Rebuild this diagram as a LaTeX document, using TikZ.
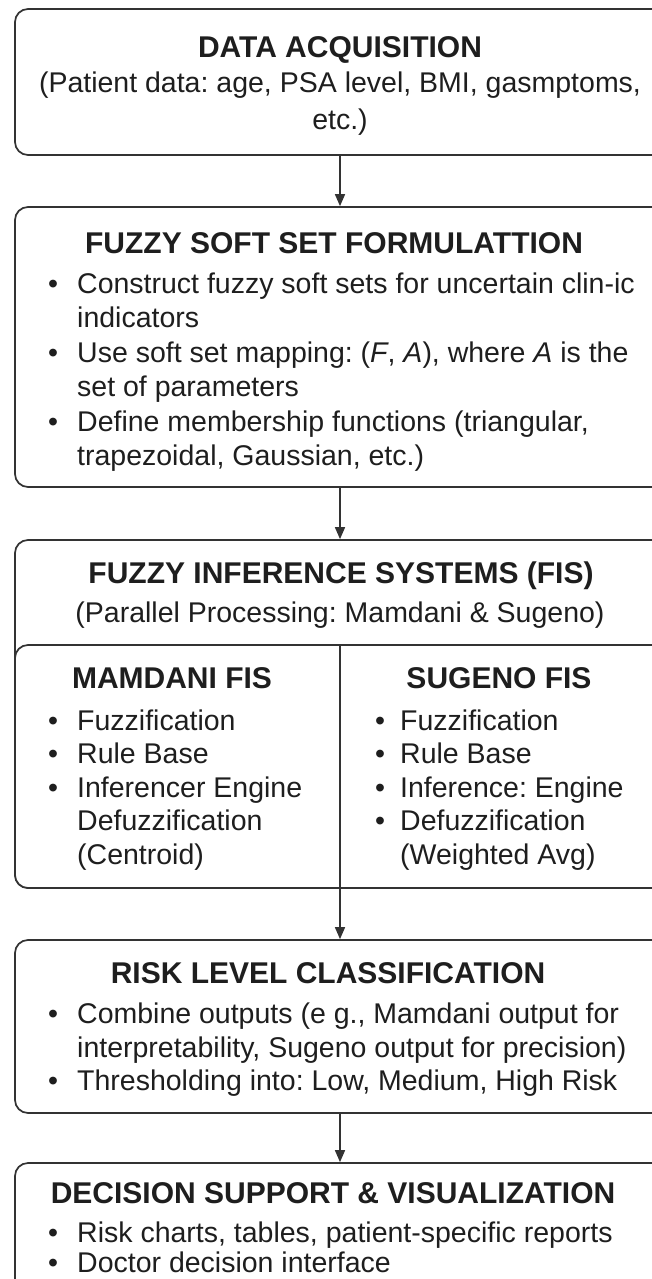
\documentclass[tikz,border=0pt]{standalone}
\usepackage{fontspec}
\setmainfont{Liberation Sans}
\usetikzlibrary{arrows.meta}
\definecolor{ink}{HTML}{1E1E1E}
\definecolor{edge}{HTML}{333333}
\frenchspacing
\begin{document}
\begin{tikzpicture}[x=1pt,y=-1pt,
  box/.style={draw=edge, line width=1.7pt, rounded corners=13pt, minimum width=650pt, inner sep=0pt},
  head/.style={anchor=base, inner sep=0pt, text=ink, font=\fontsize{30}{36}\selectfont\bfseries},
  txt/.style={anchor=base west, inner sep=0pt, text=ink, font=\fontsize{28.5}{34}\selectfont},
  ctxt/.style={anchor=base, inner sep=0pt, text=ink, font=\fontsize{28.5}{34}\selectfont},
  bul/.style={anchor=base west, inner sep=0pt, text=ink, font=\fontsize{28.5}{34}\selectfont},
  arr/.style={draw=edge, line width=1.5pt, -{Triangle[length=12pt,width=10pt]}}]
\useasboundingbox (0,0) rectangle (652,1279);
\clip (0,0) rectangle (652,1279);
\fill[white] (0,0) rectangle (652,1279);

% Box 1
\node[box, minimum height=146pt] (b1) at (340,82) {};
\node[head] (h1) at (340,58) {DATA ACQUISITION};
\node[ctxt] (t1a) at (340,93) {(Patient data: age, PSA level, BMI, gasmptoms,};
\node[ctxt] (t1b) at (340,130) {etc.)};

% Box 2
\node[box, minimum height=280pt] (b2) at (340,347) {};
\node[head] (h2) at (334,253) {FUZZY SOFT SET FORMULATTION};
\node[bul] (d2a) at (48,293) {\textbullet};
\node[txt] (t2a) at (77,293) {Construct fuzzy soft sets for uncertain clin-ic};
\node[txt] (t2b) at (77,327.5) {indicators};
\node[bul] (d2c) at (48,362) {\textbullet};
\node[txt] (t2c) at (77,362) {Use soft set mapping: (\textit{F}, \textit{A}), where \textit{A} is the};
\node[txt] (t2d) at (77,396.5) {set of parameters};
\node[bul] (d2e) at (48,431) {\textbullet};
\node[txt] (t2e) at (77,431) {Define membership functions (triangular,};
\node[txt] (t2f) at (77,465.5) {trapezoidal, Gaussian, etc.)};

% Box 3 (outer + inner)
\node[box, minimum height=348pt] (b3) at (340,714) {};
\node[head] (h3) at (341,583) {FUZZY INFERENCE SYSTEMS (FIS)};
\node[ctxt] (t3) at (340,622) {(Parallel Processing: Mamdani \& Sugeno)};
\node[box, fill=white, minimum height=243pt] (in) at (340,766.5) {};
\node[head] (hm) at (172,688) {MAMDANI FIS};
\node[head] (hs) at (499,688) {SUGENO FIS};
\node[bul] (dm1) at (48,730) {\textbullet};
\node[txt] (m1) at (77,730) {Fuzzification};
\node[bul] (dm2) at (48,763.5) {\textbullet};
\node[txt] (m2) at (77,763.5) {Rule Base};
\node[bul] (dm3) at (48,797) {\textbullet};
\node[txt] (m3) at (77,797) {Inferencer Engine};
\node[txt] (m4) at (77,830.5) {Defuzzification};
\node[txt] (m5) at (77,864) {(Centroid)};
\node[bul] (ds1) at (375,730) {\textbullet};
\node[txt] (s1) at (400,730) {Fuzzification};
\node[bul] (ds2) at (375,763.5) {\textbullet};
\node[txt] (s2) at (400,763.5) {Rule Base};
\node[bul] (ds3) at (375,797) {\textbullet};
\node[txt] (s3) at (400,797) {Inference: Engine};
\node[bul] (ds4) at (375,830.5) {\textbullet};
\node[txt] (s4) at (400,830.5) {Defuzzification};
\node[txt] (s5) at (400,864) {(Weighted Avg)};

% Box 4
\node[box, minimum height=173pt] (b4) at (340,1026.5) {};
\node[head] (h4) at (328,983) {RISK LEVEL CLASSIFICATION};
\node[bul] (d4a) at (48,1023) {\textbullet};
\node[txt] (t4a) at (77,1023) {Combine outputs (e g., Mamdani output for};
\node[txt] (t4b) at (77,1057) {interpretability, Sugeno output for precision)};
\node[bul] (d4c) at (48,1090) {\textbullet};
\node[txt] (t4c) at (77,1090) {Thresholding into: Low, Medium, High Risk};

% Box 5
\node[box, minimum height=180pt] (b5) at (340,1253) {};
\node[head] (h5) at (333,1203) {DECISION SUPPORT \& VISUALIZATION};
\node[bul] (d5a) at (48,1242) {\textbullet};
\node[txt] (t5a) at (77,1242) {Risk charts, tables, patient-specific reports};
\node[bul] (d5b) at (48,1272) {\textbullet};
\node[txt] (t5b) at (77,1272) {Doctor decision interface};

% Connectors
\draw[arr] (b1.south) -- (b2.north);
\draw[arr] (b2.south) -- (b3.north);
\draw[arr] (in.north) -- (b4.north);
\draw[arr] (b4.south) -- (b5.north);
\end{tikzpicture}
\end{document}
